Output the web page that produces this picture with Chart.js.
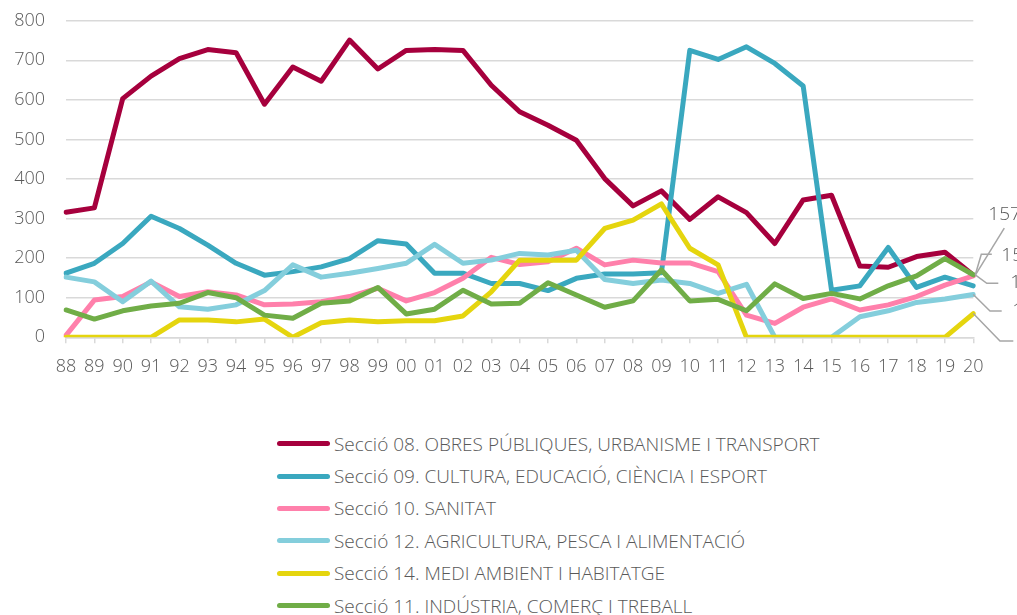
<!DOCTYPE html>
<html lang="ca">
<head>
<meta charset="utf-8">
<title>Seccions</title>
<script src="https://cdn.jsdelivr.net/npm/chart.js@4/dist/chart.umd.min.js"></script>
<style>
  html, body { margin: 0; padding: 0; background: #fff; }
  body { width: 1017px; height: 615px; position: relative; overflow: hidden; font-family: "Open Sans", sans-serif; }
  #chartBox { position: absolute; left: 0; top: 0; width: 1017px; height: 390px; }
  #legend { position: absolute; left: 277px; top: 427.5px; margin: 0; padding: 0; list-style: none; }
  #legend li { height: 32.4px; display: flex; align-items: center; font-size: 19px; font-weight: 300; color: #595959; white-space: nowrap; }
  #legend li span.swatch { display: inline-block; width: 53px; height: 5px; border-radius: 3px; margin-right: 4px; }
</style>
</head>
<body>
<div id="chartBox"><canvas id="myChart" width="1017" height="390"></canvas></div>
<ul id="legend"></ul>

<script>
// years 1988-2020, shown as two digits
var years = ['88','89','90','91','92','93','94','95','96','97','98','99','00','01','02','03','04',
             '05','06','07','08','09','10','11','12','13','14','15','16','17','18','19','20'];

var yTicks = [0, 100, 200, 300, 400, 500, 600, 700, 800];

var seccio08 = [316,327,603,660,704,727,719,589,683,647,751,678,725,727,725,637,570,
                536,498,401,332,370,298,355,315,237,347,359,180,177,204,215,157];
var seccio09 = [162,187,237,306,275,233,187,157,166,178,199,244,236,162,162,136,136,
                118,149,160,160,163,725,702,734,692,635,119,130,227,126,152,130];
var seccio10 = [5,94,103,140,103,115,107,82,84,90,103,124,92,113,149,202,184,
                191,225,183,195,188,188,166,56,35,76,97,69,82,103,132,155];
var seccio12 = [152,140,90,142,77,71,82,118,183,152,162,174,187,235,187,195,212,
                208,220,146,136,145,136,111,134,0,0,0,52,67,88,97,108];
var seccio14 = [0,0,0,0,44,44,39,46,0,37,44,39,42,42,54,115,195,
                195,195,275,296,337,225,183,0,0,0,0,0,0,0,0,60];
var seccio11 = [69,46,67,79,86,113,100,56,48,86,92,126,59,71,119,84,86,
                138,107,76,92,170,92,96,67,135,98,111,97,130,155,199,158];

var names = [
  'Secció 08. OBRES PÚBLIQUES, URBANISME I TRANSPORT',
  'Secció 09. CULTURA, EDUCACIÓ, CIÈNCIA I ESPORT',
  'Secció 10. SANITAT',
  'Secció 12. AGRICULTURA, PESCA I ALIMENTACIÓ',
  'Secció 14. MEDI AMBIENT I HABITATGE',
  'Secció 11. INDÚSTRIA, COMERÇ I TREBALL'
];
var series = [seccio08, seccio09, seccio10, seccio12, seccio14, seccio11];
var colors = ['#A6003D', '#3AA8BF', '#FF80AB', '#84CEDC', '#E5D50E', '#70AD47'];

var textGrey = '#595959';
var gridGrey = '#d9d9d9';

// value labels at the end of some lines, with leader lines (offsets from the last point)
var endLabels = [
  { ds: 0, dx: 15, dy: -61, path: [[2, 0], [31, -47]] },
  { ds: 5, dx: 28, dy: -19, path: [[2, 0], [8, -20.5], [18.5, -20.5]] },
  { ds: 2, dx: 37, dy: 7,   path: [[2, -1], [13.5, 7.3], [25, 7.3]] },
  { ds: 3, dx: 39, dy: 16.5, path: [[0, 0], [16.7, 16.5], [28.4, 16.5]] },
  { ds: 4, dx: 47, dy: 27.5, path: [[0, 0], [26.7, 27.5], [40, 27.5]] }
];

var endLabelPlugin = {
  id: 'endLabels',
  afterDatasetsDraw: function(chart) {
    var ctx = chart.ctx;
    ctx.save();
    endLabels.forEach(function(l) {
      var meta = chart.getDatasetMeta(l.ds);
      var pt = meta.data[meta.data.length - 1];
      var value = chart.data.datasets[l.ds].data[meta.data.length - 1];
      ctx.strokeStyle = '#a6a6a6';
      ctx.lineWidth = 1.5;
      ctx.beginPath();
      l.path.forEach(function(p, i) {
        if (i === 0) ctx.moveTo(pt.x + p[0], pt.y + p[1]);
        else ctx.lineTo(pt.x + p[0], pt.y + p[1]);
      });
      ctx.stroke();
      ctx.fillStyle = textGrey;
      ctx.font = '300 19px "Open Sans"';
      ctx.textAlign = 'left';
      ctx.textBaseline = 'middle';
      ctx.fillText(String(value), pt.x + l.dx, pt.y + l.dy);
    });
    ctx.restore();
  }
};

var ctx = document.getElementById('myChart').getContext('2d');

var myChart = new Chart(ctx, {
  type: 'line',
  data: {
    labels: years,
    datasets: series.map(function(d, i) {
      return {
        label: names[i],
        data: d,
        borderColor: colors[i],
        backgroundColor: colors[i],
        borderWidth: 5,
        borderCapStyle: 'round',
        borderJoinStyle: 'round',
        pointRadius: 0,
        tension: 0,
        order: series.length - 1 - i   // later series drawn on top
      };
    })
  },
  options: {
    responsive: false,
    animation: false,
    layout: { padding: { left: 0, right: 43.7, top: 20.7, bottom: 0 } },
    plugins: {
      legend: { display: false },
      tooltip: { enabled: false }
    },
    scales: {
      x: {
        offset: false,
        grid: { display: true, drawOnChartArea: false, drawTicks: true, tickLength: 6, color: gridGrey, lineWidth: 1.5 },
        border: { display: true, color: gridGrey, width: 1.5 },
        ticks: { color: textGrey, font: { family: 'Open Sans', size: 18, weight: '300' }, padding: 13, maxRotation: 0, autoSkip: false },
        afterFit: function(scale) { scale.height = 52.7; }
      },
      y: {
        min: 0,
        max: 800,
        afterBuildTicks: function(scale) {
          scale.ticks = yTicks.map(function(v) { return { value: v }; });
        },
        grid: { color: gridGrey, lineWidth: 1.5, drawTicks: false },
        border: { display: false },
        ticks: { color: textGrey, font: { family: 'Open Sans', size: 18, weight: '300' }, padding: 21 },
        afterFit: function(scale) {
          scale.width = 66;
          // tick padding would otherwise push the plot top down
          scale.paddingTop = 0;
          scale.paddingBottom = 0;
        }
      }
    }
  },
  plugins: [endLabelPlugin]
});

// legend list below the chart
var legendEl = document.getElementById('legend');
myChart.data.datasets.forEach(function(ds) {
  var li = document.createElement('li');
  var sw = document.createElement('span');
  sw.className = 'swatch';
  sw.style.background = ds.borderColor;
  li.appendChild(sw);
  li.appendChild(document.createTextNode(ds.label));
  legendEl.appendChild(li);
});
</script>
</body>
</html>
